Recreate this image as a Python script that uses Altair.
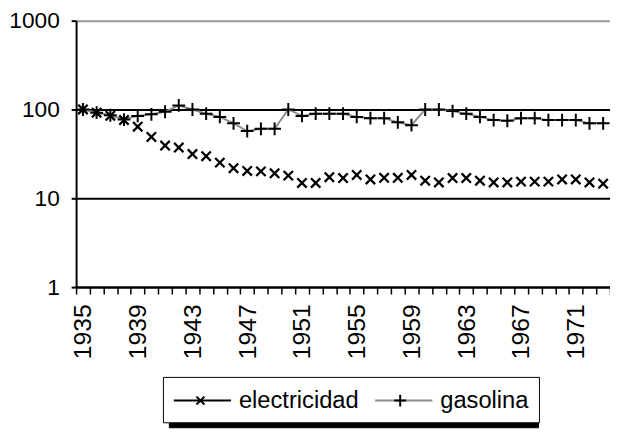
import altair as alt
import pandas as pd

anios = list(range(1935, 1974))
electricidad = [100, 92, 85, 76, 64, 49, 39.2, 37.3, 31.5, 29.8, 25.2, 21.8, 20.3,
                20.1, 19.1, 18.0, 14.9, 14.9, 17.3, 16.9, 18.3, 16.3, 17.0, 17.0,
                18.3, 15.8, 15.1, 16.9, 16.9, 15.8, 15.1, 15.1, 15.4, 15.4, 15.4,
                16.3, 16.3, 15.1, 14.6]
gasolina = [100, 92, 86, 77, 84.6, 88.2, 94.3, 111, 100, 89.6, 82.5, 69.8, 57.1,
            60.5, 60.5, 100, 84.6, 89.6, 89.6, 89.6, 82.5, 79.8, 79.8, 71.6, 66.6,
            100, 100, 95.8, 89.6, 82.5, 75.9, 74.6, 79.8, 79.8, 75.9, 75.9, 75.9,
            69.8, 69.8]
series = ["electricidad", "gasolina"]
sombras = ["s1"]
cruces = ["c1"]
y_ticks = [1, 10, 100, 1000]

rows = []
for a, e, g in zip(anios, electricidad, gasolina):
    rows.append({"anio": a, "valor": e, "serie": series[0], "sombra": sombras[0], "cruz": cruces[0]})
    rows.append({"anio": a, "valor": g, "serie": series[1], "sombra": sombras[0], "cruz": cruces[0]})
df = pd.DataFrame(rows)

FONT = "Liberation Sans"
X_SHAPE = "M-1,-1L1,1M-1,1L1,-1"
PLUS_SHAPE = "M-1,0L1,0M0,-1L0,1"
LEG_LINE = "M-1,0L3.462,0"
# black markers of both legend keys (x of electricidad, + of gasolina)
LEG_MARKS = ("M-14.65,-0.308L-14.03,0.308M-14.65,0.308L-14.03,-0.308"
             "M1.231,-0.4615L1.231,0.4615M0.769,0L1.692,0")

x_enc = alt.X(
    "anio:O",
    title=None,
    scale=alt.Scale(type="band", domain=anios, paddingInner=0, paddingOuter=0),
    axis=alt.Axis(
        values=anios,
        tickBand="extent",
        ticks=True,
        tickSize=7,
        tickWidth=1.5,
        tickColor="black",
        domainColor="black",
        domainWidth=2,
        labelAngle=270,
        labelExpr="(toNumber(datum.value) - 1935) % 4 == 0 ? datum.label : ''",
        labelOverlap=False,
        labelFont=FONT,
        labelFontSize=25,
        labelColor="black",
        labelPadding=10,
        grid=False,
    ),
)
y_enc = alt.Y(
    "valor:Q",
    title=None,
    scale=alt.Scale(type="log", domain=[1, 1000]),
    axis=alt.Axis(
        values=y_ticks,
        format="d",
        tickSize=5,
        tickWidth=2,
        tickColor="black",
        domainColor="black",
        domainWidth=2,
        labelFont=FONT,
        labelFontSize=23,
        labelColor="black",
        labelPadding=12,
        grid=True,
        gridColor={"condition": {"test": "datum.value >= 1000", "value": "#9a9a9a"},
                   "value": "black"},
        gridWidth=2,
    ),
)

base = alt.Chart(df)

gas_line = base.transform_filter("datum.serie == 'gasolina'").mark_line(
    color="#8c8c8c", strokeWidth=2
).encode(x=x_enc, y=y_enc)

elec_pts = base.transform_filter("datum.serie == 'electricidad'").mark_point(
    shape=X_SHAPE, size=90, color="black", filled=False, strokeWidth=2.3, opacity=1
).encode(x=x_enc, y=y_enc)

gas_pts = base.transform_filter("datum.serie == 'gasolina'").mark_point(
    shape=PLUS_SHAPE, size=169, color="black", filled=False, strokeWidth=2, opacity=1
).encode(x=x_enc, y=y_enc)

main_legend = alt.Legend(
    orient="none", direction="horizontal", title=None,
    legendX=88, legendY=361,
    padding=10, strokeColor="black", fillColor="white", zindex=2,
    labelFont=FONT, labelFontSize=24, labelColor="black",
    symbolSize=676, symbolStrokeWidth=2, symbolOpacity=1,
    labelOffset=39, columnPadding=12,
)
shadow_legend = alt.Legend(
    orient="none", direction="horizontal", title=None,
    legendX=94, legendY=366,
    padding=10, strokeColor="black", fillColor="black", zindex=1,
    labelFont=FONT, labelFontSize=24, labelColor="black", labelExpr="''",
    symbolSize=676, symbolStrokeWidth=2, symbolOpacity=1,
    symbolStrokeColor="black",
    labelOffset=326,
)

legend_layer = base.transform_filter("false").mark_point(
    shape=LEG_LINE, filled=False, size=676, strokeWidth=2, opacity=1
).encode(
    x=x_enc,
    y=y_enc,
    color=alt.Color("serie:N", scale=alt.Scale(domain=series, range=["black", "#8c8c8c"]),
                    legend=main_legend),
    strokeDash=alt.StrokeDash("sombra:N",
                              scale=alt.Scale(domain=sombras, range=[[1, 0]]),
                              legend=shadow_legend),
)

marks_legend = alt.Legend(
    orient="none", direction="horizontal", title=None,
    legendX=298.4, legendY=371,
    padding=0, zindex=3,
    labelFont=FONT, labelFontSize=10, labelColor="black", labelExpr="''",
    symbolSize=676, symbolStrokeWidth=2, symbolOpacity=1,
    symbolStrokeColor="black", symbolFillColor="transparent",
    labelOffset=0,
)
marks_layer = base.transform_filter("false").mark_point(
    filled=False, size=676, strokeWidth=2, opacity=1, color="black"
).encode(
    x=x_enc,
    y=y_enc,
    shape=alt.Shape("cruz:N", scale=alt.Scale(domain=cruces, range=[LEG_MARKS]),
                    legend=marks_legend),
)

chart = alt.layer(gas_line, elec_pts, gas_pts, legend_layer, marks_layer).properties(
    width=541,
    height=270,
    autosize=alt.AutoSizeParams(type="none"),
    padding={"left": 69, "top": 10, "right": 0, "bottom": 144},
).configure_view(stroke=None).configure(background="white")

chart.save("out.html", embed_options={"renderer": "svg", "actions": False})
